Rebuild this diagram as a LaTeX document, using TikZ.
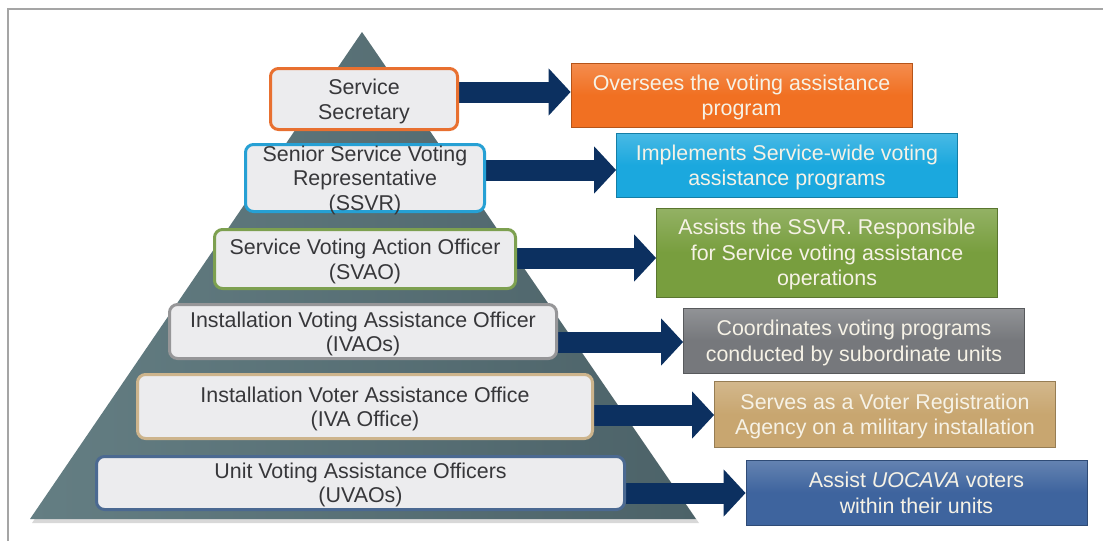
\documentclass[tikz,border=0pt]{standalone}
\usepackage{fontspec}
\setmainfont{Liberation Sans}
\usetikzlibrary{arrows.meta,backgrounds}
\definecolor{pyrL}{RGB}{100,126,131}
\definecolor{pyrR}{RGB}{76,98,104}
\definecolor{navy}{RGB}{12,48,96}
\definecolor{cOr}{RGB}{241,112,34}
\definecolor{cCy}{RGB}{27,168,222}
\definecolor{cGr}{RGB}{120,158,62}
\definecolor{cGy}{RGB}{118,120,124}
\definecolor{cTn}{RGB}{200,166,112}
\definecolor{cBl}{RGB}{62,100,158}
\definecolor{bOr}{RGB}{232,112,48}
\definecolor{bCy}{RGB}{38,160,212}
\definecolor{bGr}{RGB}{125,160,80}
\definecolor{bGy}{RGB}{150,150,152}
\definecolor{bTn}{RGB}{205,180,140}
\definecolor{bBl}{RGB}{75,105,145}
\definecolor{boxfill}{RGB}{236,236,238}
\definecolor{ltxt}{RGB}{55,55,58}
\definecolor{rtxt}{RGB}{246,242,230}
\definecolor{frame}{RGB}{165,165,165}
\begin{document}
\begin{tikzpicture}[x=1pt,y=-1pt,
  lbox/.style={draw, line width=3pt, rounded corners=8pt, fill=boxfill, text=ltxt,
    align=center, inner sep=0pt, text depth=-1.5pt, font=\fontsize{21.4}{24.5}\selectfont},
  rbox/.style={draw=#1!75!black, line width=0.8pt, top color=#1!80!white, bottom color=#1,
    middle color=#1, align=center, inner sep=0pt, text=rtxt, text depth=-2.5pt,
    minimum width=341pt, font=\fontsize{21.4}{25.5}\selectfont},
  link/.style={line width=21pt, draw=navy, -{Triangle[length=22pt,width=46pt]}}]
\useasboundingbox (0,0) rectangle (1103,541);
% left boxes
\node[lbox, draw=bOr, minimum width=187pt, minimum height=61pt] (L1) at (364,99) {Service\\Secretary};
\node[lbox, draw=bCy, minimum width=239pt, minimum height=67pt, text depth=-5.5pt] (L2) at (365,178) {Senior Service Voting\\Representative\\(SSVR)};
\node[lbox, draw=bGr, minimum width=301pt, minimum height=59pt] (L3) at (365,259) {Service Voting Action Officer\\(SVAO)};
\node[lbox, draw=bGy, minimum width=387pt, minimum height=54pt] (L4) at (363,331.5) {Installation Voting Assistance Officer\\(IVAOs)};
\node[lbox, draw=bTn, minimum width=455pt, minimum height=64pt] (L5) at (365,406.5) {Installation Voter Assistance Office\\(IVA Office)};
\node[lbox, draw=bBl, minimum width=528pt, minimum height=53pt, text depth=0.5pt] (L6) at (360.5,483) {Unit Voting Assistance Officers\\(UVAOs)};
% right boxes
\node[rbox=cOr, minimum height=64pt] (R1) at (741.5,95) {Oversees the voting assistance\\program};
\node[rbox=cCy, minimum height=64pt] (R2) at (787,165) {Implements Service-wide voting\\assistance programs};
\node[rbox=cGr, minimum height=89pt, text depth=-6.5pt] (R3) at (827,252.5) {Assists the SSVR. Responsible\\for Service voting assistance\\operations};
\node[rbox=cGy, minimum height=65pt] (R4) at (854,340.5) {Coordinates voting programs\\conducted by subordinate units};
\node[rbox=cTn, minimum height=66pt] (R5) at (885,414) {Serves as a Voter Registration\\Agency on a military installation};
\node[rbox=cBl, minimum height=65pt] (R6) at (916.5,492.5) {Assist \textit{UOCAVA} voters\\within their units};
\begin{scope}[on background layer]
\fill[white] (0,0) rectangle (1103,541);
% frame
\draw[frame, line width=2pt] (8,541) -- (8,9) -- (1103,9);
% pyramid
\fill[black!30, opacity=0.5] (364,35) -- (699,523) -- (32,523) -- cycle;
\shade[left color=pyrL, right color=pyrR] (362,32) -- (696,519) -- (30,519) -- cycle;
% connectors
\draw[link] (L1.east |- 0,92) -- (R1.west |- 0,92);
\draw[link] (L2.east |- 0,170) -- (R2.west |- 0,170);
\draw[link] (L3.east |- 0,258) -- (R3.west |- 0,258);
\draw[link] (L4.east |- 0,342) -- (R4.west |- 0,342);
\draw[link] (L5.east |- 0,415) -- (R5.west |- 0,415);
\draw[link] (L6.east |- 0,493) -- (R6.west |- 0,493);
\end{scope}
\end{tikzpicture}
\end{document}
